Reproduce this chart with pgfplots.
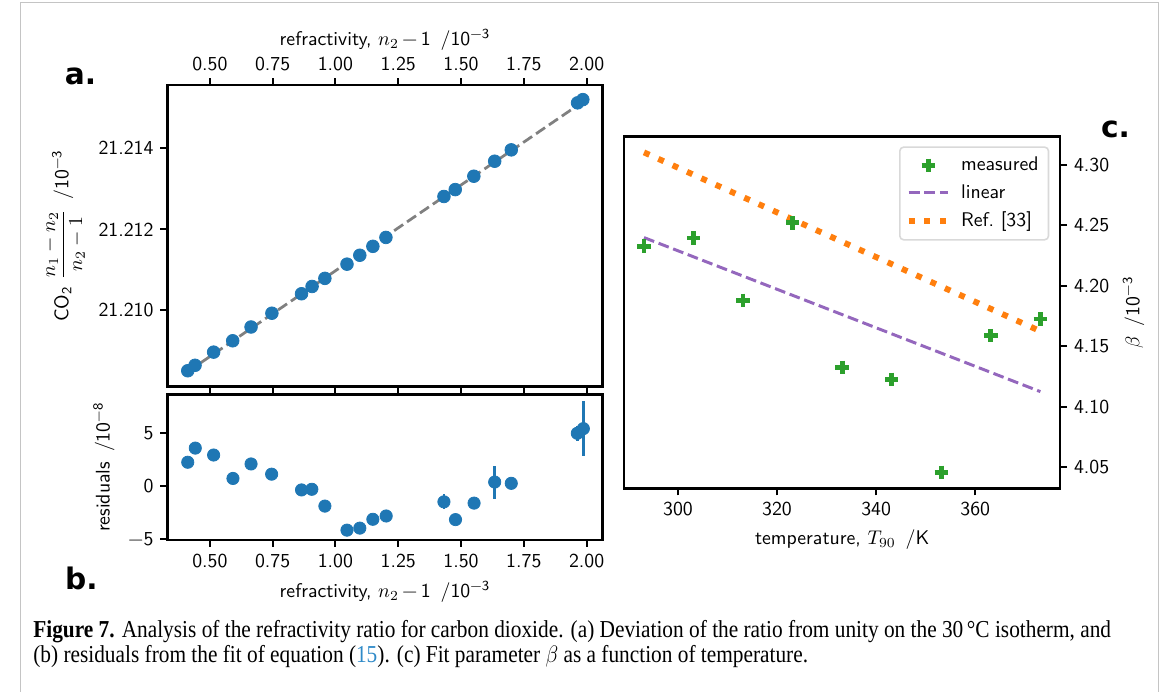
\documentclass[border=0pt]{standalone}
\usepackage{fontspec}
\usepackage{pgfplots}
\usepackage{pgfplotstable}
\pgfplotsset{compat=1.18}
\newfontfamily\panelfont{DejaVu Sans}
\newfontfamily\capfont{Liberation Serif}
\definecolor{mplblue}{HTML}{1F77B4}
\definecolor{mplgreen}{HTML}{2CA02C}
\definecolor{mplpurple}{HTML}{9467BD}
\definecolor{mplorange}{HTML}{FF7F0E}
\definecolor{framegray}{HTML}{C4C4C4}
\definecolor{linkblue}{HTML}{2F8AC8}

% panel a: dev = (ratio - 21.210) x 1000, i.e. in units of 1e-6
\pgfplotstableread{
x dev
0.412 -1.49
0.441 -1.355
0.515 -1.03
0.591 -0.75
0.664 -0.41
0.747 -0.07
0.865 0.41
0.907 0.59
0.958 0.79
1.046 1.14
1.097 1.36
1.149 1.58
1.201 1.80
1.432 2.81
1.477 2.98
1.551 3.31
1.634 3.68
1.700 3.96
1.964 5.12
1.985 5.20
}\ratiotable

\pgfplotstableread{
x dev
0.412 -1.512
1.985 5.146
}\fittable

\pgfplotstableread{
x r e
0.412 2.23 0.5
0.442 3.56 0.3
0.515 2.91 0.3
0.592 0.71 0.3
0.664 2.07 0.3
0.746 1.11 0.3
0.865 -0.37 0.3
0.906 -0.31 0.3
0.958 -1.89 0.3
1.046 -4.15 0.3
1.097 -3.96 0.3
1.149 -3.13 0.3
1.202 -2.82 0.3
1.432 -1.49 0.7
1.478 -3.16 0.3
1.552 -1.61 0.3
1.634 0.37 1.55
1.700 0.25 0.3
1.963 4.95 0.7
1.987 5.39 2.6
}\restable

\pgfplotstableread{
T beta
293.15 4.2329
303.15 4.2397
313.15 4.1881
323.15 4.2522
333.15 4.1325
343.15 4.1227
353.15 4.0456
363.15 4.1589
373.15 4.1727
}\measuredtable

\pgfplotstableread{
T beta
293.15 4.2400
373.15 4.1125
}\lineartable

\pgfplotstableread{
T beta
293.15 4.3105
373.15 4.1625
}\reftable

\pgfplotsset{
  common/.style={
    scale only axis,
    axis line style={line width=1.2pt},
    every tick/.style={black, line width=1pt},
    major tick length=3.5pt,
    tick align=outside,
    ticklabel style={font=\sffamily\fontsize{10}{12}\selectfont},
    label style={font=\sffamily\fontsize{10}{12}\selectfont},
    /pgf/number format/assume math mode=true,
    legend image code/.code={\draw[mark repeat=2,mark phase=2,##1] plot coordinates {(0pt,0pt) (10pt,0pt) (20pt,0pt)};},
  }
}

\newlength\capw
\begin{document}
\settowidth\capw{\capfont\fontsize{12.3}{14}\selectfont\textbf{Figure 7.} Analysis of the refractivity ratio for carbon dioxide. (a) Deviation of the ratio from unity on the 30\,°C isotherm, and}
\pgfmathsetmacro{\capscale}{545/\capw}
\begin{tikzpicture}
\useasboundingbox (0,0) rectangle (582.5pt,-349.5pt);
\draw[framegray, line width=0.75pt] (3.65pt,-352pt) -- (3.65pt,-1.35pt) -- (579.25pt,-1.35pt) -- (579.25pt,-352pt);

% ---------- panel a ----------
\begin{axis}[common, at={(78pt,-43pt)}, anchor=north west,
  width=220pt, height=152.5pt,
  xmin=0.331, xmax=2.063, ymin=-1.88, ymax=5.56,
  xtick={0.5,0.75,1.0,1.25,1.5,1.75,2.0},
  xticklabel pos=upper, xtick pos=both,
  xticklabel style={/pgf/number format/.cd, fixed, fixed zerofill, precision=2},
  ytick={0,2,4}, yticklabels={21.210,21.212,21.214}, ytick pos=left,
  xlabel={refractivity, $n_2$\,−\,1 \,/10\textsuperscript{−3}},
  xlabel style={yshift=-3.5pt},
  ylabel={CO\textsubscript{2} $\displaystyle\frac{n_1-n_2}{n_2-1}$ \,/10\textsuperscript{−3}},
]
\addplot[gray, line width=1.4pt, dash pattern=on 5.5pt off 2.4pt] table[x=x, y=dev] {\fittable};
\addplot[only marks, mark=*, mark size=3.2pt, color=mplblue] table[x=x, y=dev] {\ratiotable};
\end{axis}

% ---------- panel b ----------
\begin{axis}[common, at={(78pt,-199.5pt)}, anchor=north west,
  width=220pt, height=73.5pt,
  xmin=0.331, xmax=2.063, ymin=-5.06, ymax=8.6,
  xtick={0.5,0.75,1.0,1.25,1.5,1.75,2.0},
  xtick pos=lower,
  xticklabel style={/pgf/number format/.cd, fixed, fixed zerofill, precision=2},
  ytick={-5,0,5}, yticklabels={−5,0,5}, ytick pos=left,
  xlabel={refractivity, $n_2$\,−\,1 \,/10\textsuperscript{−3}},
  ylabel={residuals \,/10\textsuperscript{−8}},
]
\addplot[only marks, mark=*, mark size=3.1pt, color=mplblue,
  error bars/.cd, y dir=both, y explicit, error mark=none,
  error bar style={line width=1.4pt, mplblue}]
  table[x=x, y=r, y error=e] {\restable};
\end{axis}

% ---------- panel c ----------
\begin{axis}[common, at={(309pt,-69pt)}, anchor=north west,
  width=220.5pt, height=178pt,
  xmin=289.15, xmax=377.15, ymin=4.0324, ymax=4.3237,
  xtick={300,320,340,360}, xtick pos=lower,
  ytick={4.05,4.10,4.15,4.20,4.25,4.30},
  yticklabel pos=right, ytick pos=right,
  yticklabel style={/pgf/number format/.cd, fixed, fixed zerofill, precision=2},
  xlabel={temperature, $T_{90}$ \,/K},
  ylabel={$\beta$ \,/10\textsuperscript{−3}},
  legend cell align=left,
  legend style={at={(1,1)}, anchor=north east, xshift=-5.5pt, yshift=-5pt,
    draw=black!15, rounded corners=2pt, line width=0.8pt,
    font=\sffamily\fontsize{10}{12}\selectfont, row sep=1.5pt, column sep=3pt,
    inner xsep=3pt, inner ysep=3pt},
]
\addplot[only marks, mark=+, mark size=3.4pt, color=mplgreen, mark options={line width=2.4pt}]
  table[x=T, y=beta] {\measuredtable};
\addlegendentry{measured}
\addplot[mplpurple, line width=1.5pt, dash pattern=on 5.5pt off 2.4pt] table[x=T, y=beta] {\lineartable};
\addlegendentry{linear}
\addplot[mplorange, line width=3pt, dash pattern=on 3pt off 4.95pt] table[x=T, y=beta] {\reftable};
\addlegendentry{Ref.~[33]}
\end{axis}

% panel letters
\node[font=\panelfont\bfseries\fontsize{15}{18}\selectfont] at (34pt,-38.5pt) {a.};
\node[font=\panelfont\bfseries\fontsize{15}{18}\selectfont] at (34.5pt,-292.5pt) {b.};
\node[font=\panelfont\bfseries\fontsize{15}{18}\selectfont] at (557.5pt,-65.5pt) {c.};

% caption
\node[anchor=base west, inner sep=0pt] at (10pt,-322.5pt)
  {\scalebox{\capscale}[1]{\capfont\fontsize{12.3}{14}\selectfont\textbf{Figure 7.} Analysis of the refractivity ratio for carbon dioxide. (a) Deviation of the ratio from unity on the 30\,°C isotherm, and}};
\node[anchor=base west, inner sep=0pt] at (10pt,-335pt)
  {\scalebox{\capscale}[1]{\capfont\fontsize{12.3}{14}\selectfont (b) residuals from the fit of equation (\textcolor{linkblue}{15}). (c) Fit parameter $\beta$ as a function of temperature.}};
\end{tikzpicture}
\end{document}
